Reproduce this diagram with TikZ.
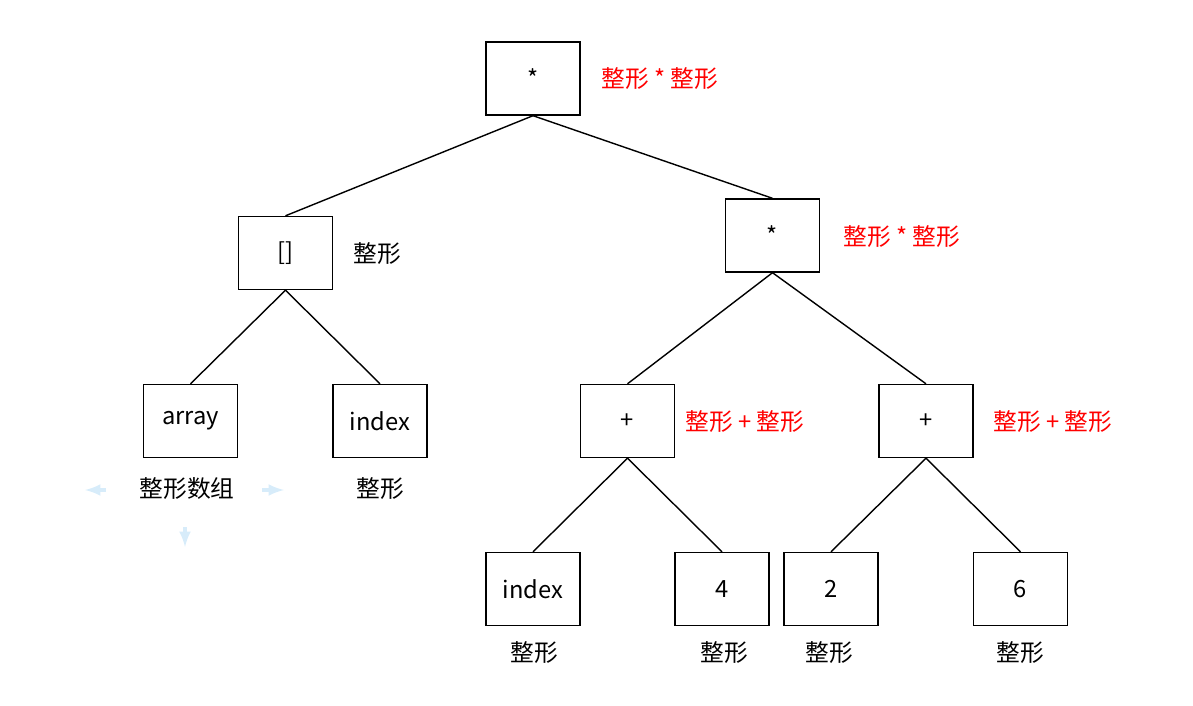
\documentclass[tikz,border=0pt]{standalone}
\usepackage{fontspec}
\setmainfont{Noto Sans CJK SC}
\usetikzlibrary{calc}
\usetikzlibrary{shapes,arrows}
\definecolor{hint}{RGB}{215,236,250}

\tikzset{
    box/.style={draw, thick, minimum width=1.88cm, minimum height=1.46cm, inner sep=0pt, font=\fontsize{13.5pt}{15pt}\selectfont},
    tag/.style={font=\fontsize{13.5pt}{15pt}\selectfont, inner sep=0pt},
    redtag/.style={tag, anchor=west, text=red}
}

\begin{document}
\begin{tikzpicture}[x=0.02cm, y=-0.02cm]
    \useasboundingbox (0,0) rectangle (1193,706);

    \node [box] (R) at (533,78.5) {*};
    \node [box] (I) at (285.5,253) {[]};
    \node [box] (M) at (772.5,235.5) {*};
    \node [box] (A) at (190.5,421) {array};
    \node [box] (X) at (380,421) {index};
    \node [box] (P1) at (627.5,421) {+};
    \node [box] (P2) at (926,421) {+};
    \node [box] (X2) at (533,589) {index};
    \node [box] (N4) at (722,589) {4};
    \node [box] (N2) at (831,589) {2};
    \node [box] (N6) at (1020.5,589) {6};

     \draw [thick] (R.south) -- (I.north);
     \draw [thick] (R.south) -- (M.north);
     \draw [thick] (I.south) -- (A.north);
     \draw [thick] (I.south) -- (X.north);
     \draw [thick] (M.south) -- (P1.north);
     \draw [thick] (M.south) -- (P2.north);
     \draw [thick] (P1.south) -- (X2.north);
     \draw [thick] (P1.south) -- (N4.north);
     \draw [thick] (P2.south) -- (N2.north);
     \draw [thick] (P2.south) -- (N6.north);

     \node [redtag] (tR) at (601,79) {整形 * 整形};
     \node [redtag] (tM) at (843,237) {整形 * 整形};
     \node [redtag] (tP1) at (685,422) {整形 + 整形};
     \node [redtag] (tP2) at (993,422) {整形 + 整形};
     \node [tag, anchor=west] (tI) at (353,254) {整形};
     \node [tag] (tA) at (187,489) {整形数组};
     \node [tag] (tX) at (380,489) {整形};
     \node [tag] (tX2) at (534,653) {整形};
     \node [tag] (tN4) at (724,653) {整形};
     \node [tag] (tN2) at (829,653) {整形};
     \node [tag] (tN6) at (1020,653) {整形};

    % faint hover arrows
    \coordinate (L0) at (106,490);
    \coordinate (L1) at (85,490);
    \coordinate (H0) at (262,490);
    \coordinate (H1) at (284,490);
    \coordinate (D0) at (185,527);
    \coordinate (D1) at (185,547);
     \draw [hint, line width=2pt, -latex] (L0) -- (L1);
     \draw [hint, line width=2pt, -latex] (H0) -- (H1);
     \draw [hint, line width=2pt, -latex] (D0) -- (D1);
\end{tikzpicture}
\end{document}
